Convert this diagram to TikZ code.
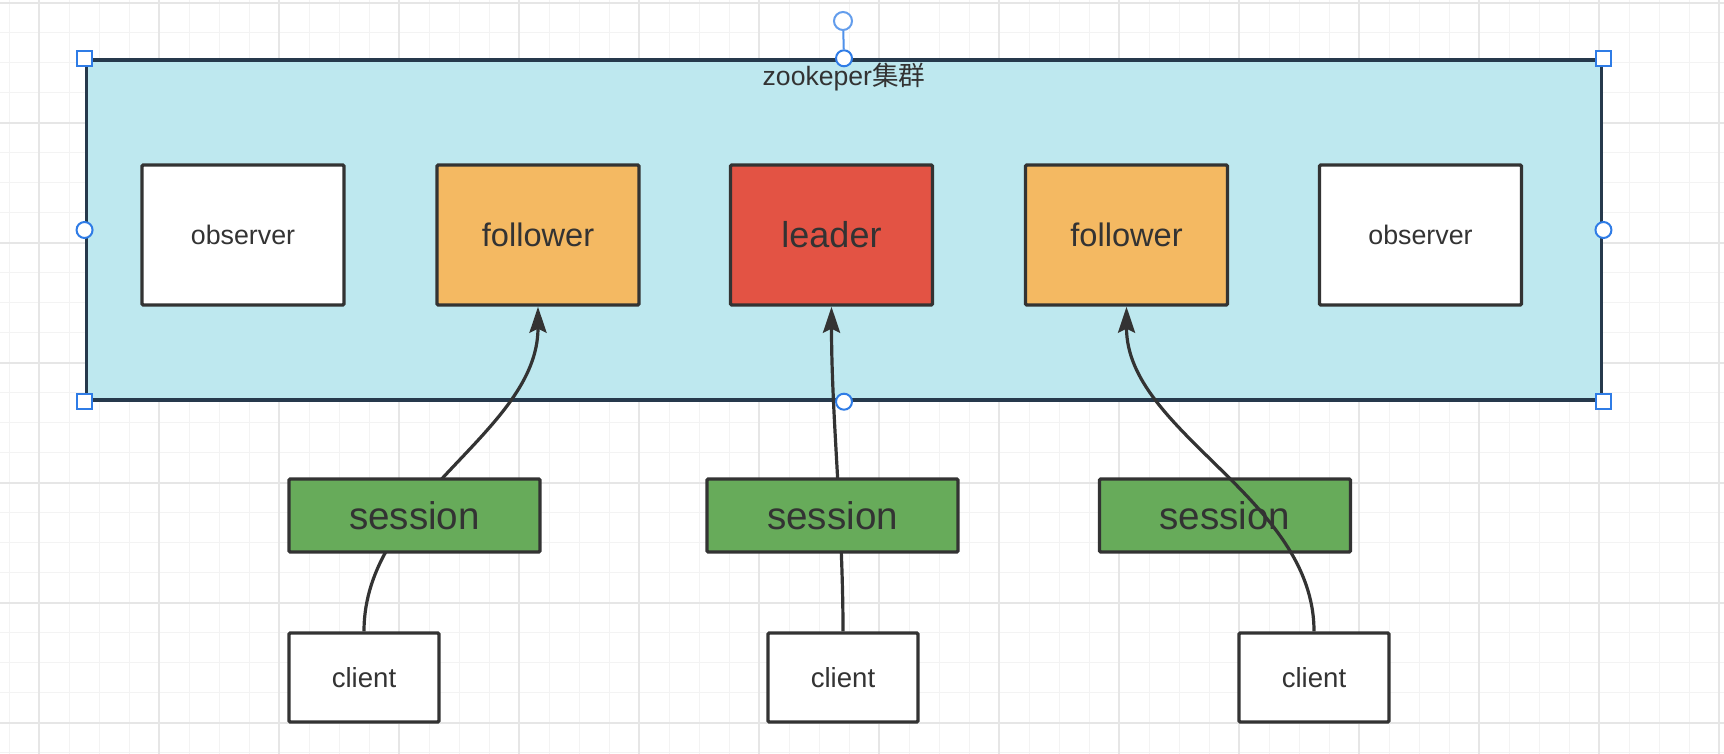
\documentclass[tikz,border=0pt]{standalone}
\usepackage{fontspec}
\setmainfont{Liberation Sans}
\newfontfamily\cjkfont{Noto Sans CJK SC}
\usetikzlibrary{arrows.meta}
\definecolor{ink}{HTML}{333333}
\definecolor{clusterfill}{HTML}{BEE8EF}
\definecolor{clusterline}{HTML}{26394C}
\definecolor{followerfill}{HTML}{F4B962}
\definecolor{leaderfill}{HTML}{E35344}
\definecolor{sessionfill}{HTML}{67AB5A}
\definecolor{handle}{HTML}{2F7CE6}
\definecolor{gridminor}{HTML}{F3F3F3}
\definecolor{gridmajor}{HTML}{E6E6E6}
\begin{document}
\begin{tikzpicture}[x=0.5pt, y=-0.5pt,
    box/.style={draw=ink, line width=1.7pt, rounded corners=0.6pt, text=ink, inner sep=0pt,
        minimum width=101pt, minimum height=70pt},
    observer/.style={box, fill=white, font=\fontsize{13.4}{16}\selectfont},
    follower/.style={box, fill=followerfill, font=\fontsize{16.3}{19}\selectfont},
    leader/.style={box, fill=leaderfill, font=\fontsize{18}{21}\selectfont},
    session/.style={box, fill=sessionfill, minimum width=125.5pt, minimum height=36.5pt,
        font=\fontsize{19.3}{22}\selectfont},
    client/.style={box, fill=white, minimum width=75pt, minimum height=44.5pt,
        font=\fontsize{13.8}{16}\selectfont},
    link/.style={draw=ink, line width=1.6pt, -{Stealth[length=13pt, width=8.5pt, inset=2pt]}},
    handlesq/.style={draw=handle, fill=white, line width=1pt, minimum size=7.5pt, inner sep=0pt},
    handlecirc/.style={circle, draw=handle, fill=white, line width=1pt, minimum size=8pt, inner sep=0pt}]
    \useasboundingbox (0,0) rectangle (1724,754);
    \fill[white] (0,0) rectangle (1724,754);
    \foreach \x in {9.3,39.3,...,1724} \draw[gridminor, line width=0.75pt] (\x,0) -- (\x,754);
    \foreach \y in {2.7,32.7,...,754} \draw[gridminor, line width=0.75pt] (0,\y) -- (1724,\y);
    \foreach \x in {39.3,159.3,...,1724} \draw[gridmajor, line width=1pt] (\x,0) -- (\x,754);
    \foreach \y in {2.7,122.7,...,754} \draw[gridmajor, line width=1pt] (0,\y) -- (1724,\y);

    \node[draw=clusterline, fill=clusterfill, line width=1.7pt, minimum width=757.75pt,
        minimum height=170pt, inner sep=0pt] (cluster) at (844,230) {};
    \node[text=ink, inner sep=0pt, font=\fontsize{13.3}{16}\selectfont] (title) at (844,77.5)
        {zookeper{\cjkfont 集群}};

    \node[observer] (o1) at (243,235) {observer};
    \node[follower] (f1) at (538,235) {follower};
    \node[leader] (l) at (831.5,235) {leader};
    \node[follower] (f2) at (1126.5,235) {follower};
    \node[observer] (o2) at (1420.5,235) {observer};

    \node[client] (c1) at (364,677.5) {client};
    \node[client] (c2) at (843,677.5) {client};
    \node[client] (c3) at (1314,677.5) {client};

    \draw[link] (c1.north) .. controls +(0,-133) and +(0,126) .. (f1.south);
    \draw[link] (c2.north) .. controls +(0,-110) and +(0,110) .. (l.south);

    \node[session] (s1) at (414.5,515.5) {session};
    \node[session] (s2) at (832.5,515.5) {session};
    \node[session] (s3) at (1225,515.5) {session};

    \draw[link] (c3.north) .. controls +(0,-133) and +(0,126) .. (f2.south);

    \foreach \a/\n in {north west/nw, north east/ne, south west/sw, south east/se}
        \node[handlesq] (h\n) at (cluster.\a) {};
    \foreach \a in {north, south, east, west}
        \node[handlecirc] (h\a) at (cluster.\a) {};
    \node[handlecirc, draw=handle!75, minimum size=9pt] (rot) at (843,21) {};
    \draw[handle!85, line width=1pt] (rot) -- (hnorth);
\end{tikzpicture}
\end{document}
